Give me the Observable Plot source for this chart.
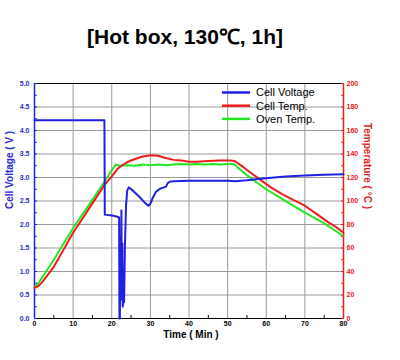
<!DOCTYPE html>
<html><head><meta charset="utf-8">
<script src="https://cdn.jsdelivr.net/npm/d3@7"></script>
<script src="https://cdn.jsdelivr.net/npm/@observablehq/plot@0.6"></script>
<style>body{margin:0;background:#fff;} #chart{width:400px;height:360px;}</style>
</head><body><div id="chart"></div>
<script>
// ---- data ----
const titleText = "[Hot box, 130\u2103, 1h]";
const voltTime  = [0, 18.1, 18.2, 19.0, 20.1, 21.2, 21.9, 22.0, 22.1, 22.25, 22.35, 22.5, 22.6, 22.75, 22.85, 23.0, 23.2, 23.4, 23.7, 24.0, 24.4, 25.5, 27.0, 28.5, 29.5, 30.0, 30.7, 31.5, 32.5, 33.5, 34.0, 34.5, 35.0, 36, 40, 45, 50, 52, 55, 58, 62, 65, 70, 75, 80];
const voltValue = [4.22, 4.22, 2.21, 2.20, 2.19, 2.17, 2.15, 0.0, 0.0, 1.75, 0.4, 2.30, 0.5, 1.6, 0.25, 0.35, 0.35, 1.5, 2.4, 2.72, 2.79, 2.72, 2.60, 2.47, 2.40, 2.44, 2.58, 2.70, 2.76, 2.79, 2.80, 2.88, 2.91, 2.92, 2.93, 2.93, 2.93, 2.92, 2.94, 2.97, 3.00, 3.02, 3.04, 3.06, 3.07];
const cellTime  = [0, 1, 2, 5, 10, 15, 18, 20, 21.4, 22.5, 24, 25, 27.5, 30, 32, 33.5, 36, 38, 40, 42, 45, 48, 50.5, 51.8, 54, 56, 58.5, 61, 64, 67, 70, 73, 76, 78, 80];
const cellTemp  = [26, 27.5, 31, 44, 73, 98, 113, 121, 127, 130, 133, 134.5, 137.5, 139, 138.5, 137, 135, 134.5, 133.5, 133.5, 134, 134.5, 134.5, 134, 129, 124, 118, 112, 106, 101, 96, 89, 82, 78, 73];
const ovenTime  = [0, 1, 5, 10, 15, 18, 20, 21, 22, 24, 26, 28, 30, 32, 34, 36, 38, 40, 42, 44, 46, 48, 50, 51.6, 53, 55, 57, 60, 63, 66, 69, 72, 75, 78, 80];
const ovenTemp  = [26.5, 30, 50, 77, 101, 116, 126, 131, 130, 130.5, 130, 131, 130.5, 131, 130.5, 131, 131.5, 131, 131.5, 131, 131.5, 131, 131.5, 131.5, 127.5, 122, 117, 110, 104, 98, 92, 86.5, 81, 74.5, 70];
const xTicks    = [0, 10, 20, 30, 40, 50, 60, 70, 80];
const xMinor    = [5, 15, 25, 35, 45, 55, 65, 75];
const voltTicks = [0, 0.5, 1.0, 1.5, 2.0, 2.5, 3.0, 3.5, 4.0, 4.5, 5.0];
const voltMinor = [0.25, 0.75, 1.25, 1.75, 2.25, 2.75, 3.25, 3.75, 4.25, 4.75];
const tempTicks = [0, 20, 40, 60, 80, 100, 120, 140, 160, 180, 200];
const tempMinor = [10, 30, 50, 70, 90, 110, 130, 150, 170, 190];
const seriesNames  = ["Cell Voltage", "Cell Temp.", "Oven Temp."];
const seriesColors = ["#2020e6", "#ee1c1c", "#22e622"];

// temperature axis maps 0..200 °C onto the 0..5 V scale
const T2V = 5 / 200;
const voltData = voltTime.map((t, i) => ({t, v: voltValue[i]}));
const cellData = cellTime.map((t, i) => ({t, v: cellTemp[i] * T2V}));
const ovenData = ovenTime.map((t, i) => ({t, v: ovenTemp[i] * T2V}));

const blueTxt = "#2a2ad6", redTxt = "#e42020";

const chart = Plot.plot({
  width: 400, height: 360,
  marginLeft: 34, marginRight: 57, marginTop: 83, marginBottom: 42,
  style: {fontFamily: "'Liberation Sans', Arial, sans-serif", fontSize: "7px", background: "white", color: "black"},
  x: {domain: [0, 80]},
  y: {domain: [0, 5]},
  marks: [
    Plot.gridX({ticks: xTicks, stroke: "#9a9a9a", strokeOpacity: 1}),
    Plot.gridY({ticks: voltTicks, stroke: "#9a9a9a", strokeOpacity: 1}),
    // frame
    Plot.ruleY([5], {stroke: "black", strokeWidth: 1}),
    Plot.ruleY([0], {stroke: "black", strokeWidth: 1}),
    Plot.ruleX([0], {stroke: "#2020e6", strokeWidth: 1.5}),
    Plot.ruleX([80], {stroke: "#ee1c1c", strokeWidth: 1.5}),
    // series
    Plot.line(ovenData, {x: "t", y: "v", stroke: seriesColors[2], strokeWidth: 2}),
    Plot.line(cellData, {x: "t", y: "v", stroke: seriesColors[1], strokeWidth: 2}),
    Plot.line(voltData, {x: "t", y: "v", stroke: seriesColors[0], strokeWidth: 2}),
    // bottom axis
    Plot.axisX({ticks: xTicks, tickSize: 0, tickPadding: 3, fontWeight: "bold", label: null}),
    Plot.axisX({ticks: xMinor, tickSize: 3, dy: -3, fill: "none", stroke: "black", label: null}),
    // left axis
    Plot.axisY({ticks: voltTicks, anchor: "left", tickSize: 0, tickPadding: 5, fontWeight: "bold", color: blueTxt, tickFormat: d3.format(".1f"), label: null}),
    Plot.axisY({ticks: voltTicks.concat(voltMinor), anchor: "left", tickSize: 3, dx: 3, fill: "none", stroke: "#2020e6", label: null}),
    // right axis (temperature)
    Plot.axisY({ticks: tempTicks.map(d => d * T2V), anchor: "right", tickSize: 0, tickPadding: 3, fontWeight: "bold", color: redTxt, tickFormat: d => Math.round(d / T2V), label: null}),
    Plot.axisY({ticks: tempTicks.concat(tempMinor).map(d => d * T2V), anchor: "right", tickSize: 3, dx: -3, fill: "none", stroke: "#ee1c1c", label: null}),
    // axis titles
    Plot.text(["Cell Voltage ( V )"], {frameAnchor: "left", rotate: -90, dx: -25, dy: 8, fill: blueTxt, fontWeight: "bold", fontSize: 10}),
    Plot.text(["Temperature ( \u00B0C )"], {frameAnchor: "right", rotate: 90, dx: 24, dy: 8, fill: redTxt, fontWeight: "bold", fontSize: 10}),
    Plot.text(["Time ( Min )"], {frameAnchor: "bottom", dy: 19, dx: 2, fill: "black", fontWeight: "bold", fontSize: 10}),
    // title
    Plot.text([titleText], {frameAnchor: "top", dy: -54, dx: -4, fill: "black", fontWeight: "bold", fontSize: 21})
  ]
});

// legend (inside plot, top-right)
const svg = d3.select(chart);
const lg = svg.append("g")
  .attr("font-family", "'Liberation Sans', Arial, sans-serif")
  .attr("font-size", 11)
  .attr("text-anchor", "start");
seriesNames.forEach((name, i) => {
  const y = 92.5 + i * 13.2;
  lg.append("line").attr("x1", 222).attr("x2", 250).attr("y1", y).attr("y2", y)
    .attr("stroke", seriesColors[i]).attr("stroke-width", 2.5);
  lg.append("text").attr("x", 256).attr("y", y).attr("dy", "0.35em")
    .attr("text-anchor", "start").attr("fill", "black").text(name);
});

document.getElementById("chart").append(chart);
</script>
</body></html>
